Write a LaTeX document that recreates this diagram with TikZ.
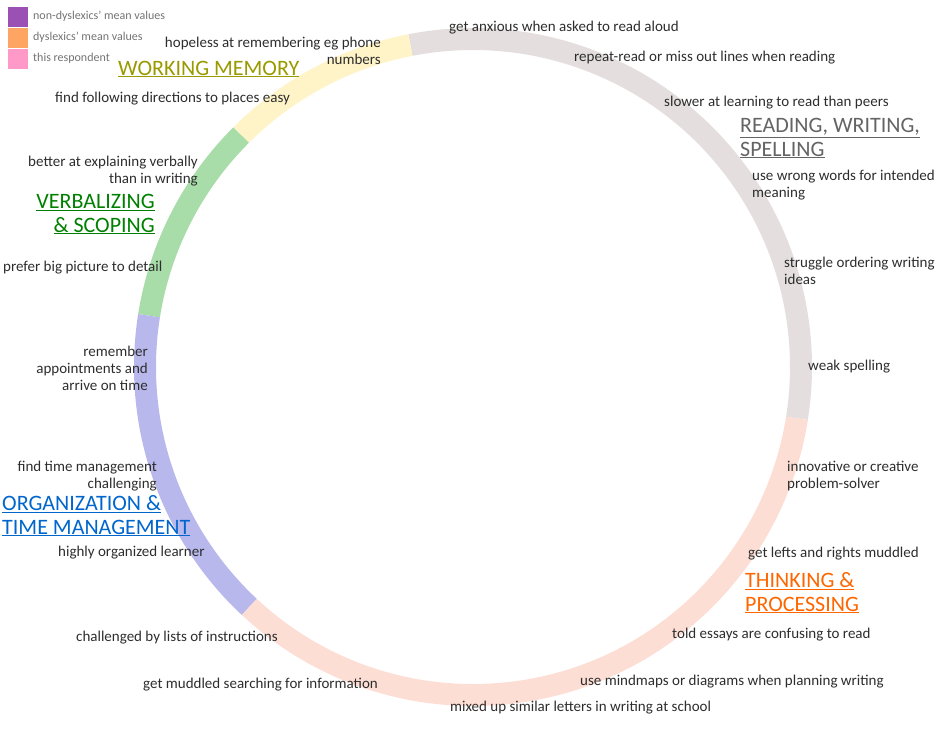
\documentclass[tikz,border=0pt]{standalone}
\usepackage{fontspec}
\setmainfont{Carlito}
\definecolor{txt}{RGB}{45,45,45}
\definecolor{leg}{RGB}{115,115,115}
\definecolor{segGray}{RGB}{228,222,222}
\definecolor{segYellow}{RGB}{255,243,200}
\definecolor{segGreen}{RGB}{168,220,168}
\definecolor{segPurple}{RGB}{184,184,236}
\definecolor{segPink}{RGB}{253,222,212}
\definecolor{hdWM}{RGB}{153,153,0}
\definecolor{hdVS}{RGB}{0,128,0}
\definecolor{hdOT}{RGB}{0,102,204}
\definecolor{hdTP}{RGB}{255,102,0}
\definecolor{hdRW}{RGB}{100,100,100}
\definecolor{legA}{RGB}{155,80,180}
\definecolor{legB}{RGB}{255,165,100}
\definecolor{legC}{RGB}{255,153,200}
\tikzset{
  x=1pt, y=1pt,
  ring/.style={line width=22pt},
  lbl/.style={inner sep=0pt, text=txt, font=\fontsize{15}{17}\selectfont},
  lblL/.style={lbl, anchor=base west, align=left},
  lblR/.style={lbl, anchor=base east, align=right},
  hd/.style={inner sep=0pt, font=\fontsize{22}{23.5}\selectfont},
  legtxt/.style={inner sep=0pt, anchor=base west, text=leg, font=\fontsize{12}{13}\selectfont},
  legbox/.style={inner sep=0pt, minimum width=20pt, minimum height=20pt, anchor=north west}
}
\begin{document}
\begin{tikzpicture}
\useasboundingbox (0,0) rectangle (946,-740);
\coordinate (c) at (473,-367);
% ring
\draw[ring, segGray] (c) ++(-9:328) arc[start angle=-9, end angle=101, radius=328];
\draw[ring, segYellow] (c) ++(101:328) arc[start angle=101, end angle=135, radius=328];
\draw[ring, segGreen] (c) ++(135:328) arc[start angle=135, end angle=171, radius=328];
\draw[ring, segPurple] (c) ++(171:328) arc[start angle=171, end angle=227, radius=328];
\draw[ring, segPink] (c) ++(227:328) arc[start angle=227, end angle=351, radius=328];
% legend
\node[legbox, fill=legA] (lA) at (8,-7) {};
\node[legbox, fill=legB] (lB) at (8,-28) {};
\node[legbox, fill=legC] (lC) at (8,-49) {};
\node[legtxt] (tA) at (33,-19) {non-dyslexics’ mean values};
\node[legtxt] (tB) at (33,-40) {dyslexics’ mean values};
\node[legtxt] (tC) at (33,-61) {this respondent};
% headings (base = last line baseline)
\node[hd, anchor=base west, text=hdWM] (hWM) at (118,-75) {\underline{WORKING MEMORY}};
\node[hd, anchor=base east, align=right, text=hdVS] (hVS) at (155,-232) {\underline{VERBALIZING}\\\underline{\& SCOPING}};
\node[hd, anchor=base west, align=left, text=hdOT] (hOT) at (2,-534) {\underline{ORGANIZATION \&}\\\underline{TIME MANAGEMENT}};
\node[hd, anchor=base west, align=left, text=hdTP] (hTP) at (745,-611) {\underline{THINKING \&}\\\underline{PROCESSING}};
\node[hd, anchor=base west, align=left, text=hdRW] (hRW) at (740,-156) {\underline{READING, WRITING,}\\\underline{SPELLING}};
% labels (base = last line baseline)
\node[lblR] (l1) at (381,-64) {hopeless at remembering eg phone\\numbers};
\node[lblL] (l2) at (55,-102.5) {find following directions to places easy};
\node[lblR] (l3) at (198,-183.5) {better at explaining verbally\\than in writing};
\node[lblL] (l4) at (3,-271.5) {prefer big picture to detail};
\node[lblR] (l5) at (148,-390) {remember\\appointments and\\arrive on time};
\node[lblR] (l6) at (157,-488.5) {find time management\\challenging};
\node[lblL] (l7) at (58,-556.5) {highly organized learner};
\node[lblL] (l8) at (76,-641.5) {challenged by lists of instructions};
\node[lblL] (l9) at (143,-688.5) {get muddled searching for information};
\node[lblL] (l10) at (450,-711.5) {mixed up similar letters in writing at school};
\node[lblL] (l11) at (580,-685.5) {use mindmaps or diagrams when planning writing};
\node[lblL] (l12) at (672,-638.5) {told essays are confusing to read};
\node[lblL] (l13) at (748,-557.5) {get lefts and rights muddled};
\node[lblL] (l14) at (787,-488.5) {innovative or creative\\problem-solver};
\node[lblL] (l15) at (808,-370.5) {weak spelling};
\node[lblL] (l16) at (784,-284.5) {struggle ordering writing\\ideas};
\node[lblL] (l17) at (752,-197.5) {use wrong words for intended\\meaning};
\node[lblL] (l18) at (664,-106.5) {slower at learning to read than peers};
\node[lblL] (l19) at (574,-61.5) {repeat-read or miss out lines when reading};
\node[lblL] (l20) at (449,-31.5) {get anxious when asked to read aloud};
\end{tikzpicture}
\end{document}
